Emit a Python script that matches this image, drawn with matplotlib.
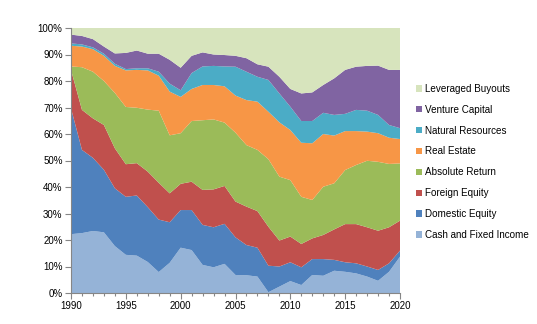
import matplotlib
matplotlib.use('Agg')
import matplotlib.pyplot as plt
from matplotlib.patches import Patch
from matplotlib.ticker import PercentFormatter, MultipleLocator

plt.rcParams['font.family'] = ['Liberation Sans', 'DejaVu Sans']

years = list(range(1990, 2021))

# shares of the portfolio in percent
cash = [22.2, 22.6, 23.4, 22.9, 17.7, 14.4, 14.1, 11.7, 7.9, 11.4, 17.1, 16.2, 10.6, 9.7, 11.0, 6.8,
        6.7, 6.2, 0.3, 2.4, 4.5, 3.0, 6.8, 6.5, 8.4, 8.0, 7.4, 6.2, 4.6, 8.0, 13.7]
domestic = [47.5, 31.4, 27.6, 23.6, 21.8, 21.9, 22.7, 20.7, 19.8, 15.3, 14.2, 15.1, 15.1, 15.1, 15.1, 14.2,
            11.4, 10.9, 10.0, 7.6, 7.1, 6.7, 6.0, 6.3, 4.1, 3.6, 3.8, 3.8, 4.1, 3.2, 2.3]
foreign = [14.5, 15.1, 14.9, 16.9, 15.1, 12.3, 12.2, 13.4, 13.9, 10.9, 9.9, 10.7, 13.2, 14.3, 14.3, 13.5,
           14.5, 13.8, 14.7, 9.8, 9.7, 8.8, 7.8, 9.1, 11.5, 14.4, 14.8, 14.8, 14.8, 13.6, 11.3]
absolute = [1.3, 16.1, 17.6, 16.6, 20.9, 21.6, 20.9, 23.4, 27.2, 21.9, 19.1, 22.9, 26.3, 26.4, 23.9, 26.0,
            23.2, 23.1, 25.5, 24.1, 21.3, 17.8, 14.5, 18.2, 17.4, 20.4, 22.3, 25.1, 26.0, 23.9, 21.6]
real_estate = [7.8, 7.8, 8.5, 9.5, 10.2, 13.8, 14.3, 14.8, 13.2, 16.5, 13.7, 12.1, 13.3, 13.0, 13.7, 14.0,
               17.0, 18.2, 17.9, 20.5, 18.9, 20.4, 21.4, 19.9, 18.0, 14.7, 12.8, 11.0, 10.8, 9.9, 9.2]
natural = [0.9, 0.8, 0.7, 0.8, 0.8, 0.5, 0.6, 0.8, 1.5, 3.0, 2.5, 6.0, 7.0, 7.2, 7.5, 10.9,
           10.7, 9.4, 12.0, 10.9, 8.8, 8.2, 8.4, 8.0, 7.8, 6.5, 8.0, 7.9, 6.9, 4.8, 4.1]
venture = [3.3, 3.2, 3.1, 2.7, 3.9, 6.1, 6.7, 5.5, 6.8, 9.0, 8.5, 6.5, 5.3, 4.3, 4.3, 4.1,
           5.1, 4.7, 5.0, 6.3, 6.7, 10.4, 10.8, 10.5, 13.8, 16.6, 16.3, 16.9, 18.6, 20.8, 22.0]
buyouts = [2.5, 3.0, 4.2, 7.0, 9.6, 9.4, 8.5, 9.7, 9.7, 12.0, 15.0, 10.5, 9.2, 10.0, 10.2, 10.5,
           11.4, 13.7, 14.6, 18.4, 23.0, 24.7, 24.3, 21.5, 19.0, 15.8, 14.6, 14.3, 14.2, 15.8, 15.8]

labels = ['Cash and Fixed Income', 'Domestic Equity', 'Foreign Equity', 'Absolute Return',
          'Real Estate', 'Natural Resources', 'Venture Capital', 'Leveraged Buyouts']
colors = ['#95B3D7', '#4F81BD', '#C0504D', '#9BBB59', '#F79646', '#4BACC6', '#8064A2', '#D7E4BD']

fig = plt.figure(figsize=(5.37, 3.24), dpi=100)
ax = fig.add_axes([71/537, 1 - 293/324, 329/537, 265/324])

ax.stackplot(years, cash, domestic, foreign, absolute, real_estate, natural, venture, buyouts,
             colors=colors, linewidth=0)

ax.set_xlim(1990, 2020)
ax.set_ylim(0, 100)
ax.xaxis.set_major_locator(MultipleLocator(5))
ax.xaxis.set_minor_locator(MultipleLocator(1))
ax.yaxis.set_major_locator(MultipleLocator(10))
ax.yaxis.set_major_formatter(PercentFormatter(decimals=0))

for s in ['top', 'right']:
    ax.spines[s].set_visible(False)
for s in ['left', 'bottom']:
    ax.spines[s].set_color('#868686')
    ax.spines[s].set_linewidth(0.8)
ax.tick_params(axis='both', which='both', colors='#868686', labelcolor='black', labelsize=7,
               direction='out', width=0.8)
ax.tick_params(axis='both', which='major', length=4, pad=2)
ax.tick_params(axis='x', which='minor', length=2.5)

handles = [Patch(facecolor=c, edgecolor='none') for c in colors][::-1]
fig.legend(handles, labels[::-1], loc='upper left', bbox_to_anchor=(412/537, 1 - 80/324),
           frameon=False, fontsize=7.1, handlelength=0.6, handleheight=0.6,
           handletextpad=0.35, labelspacing=1.1, borderaxespad=0)

fig.savefig('out.png', dpi=100)
